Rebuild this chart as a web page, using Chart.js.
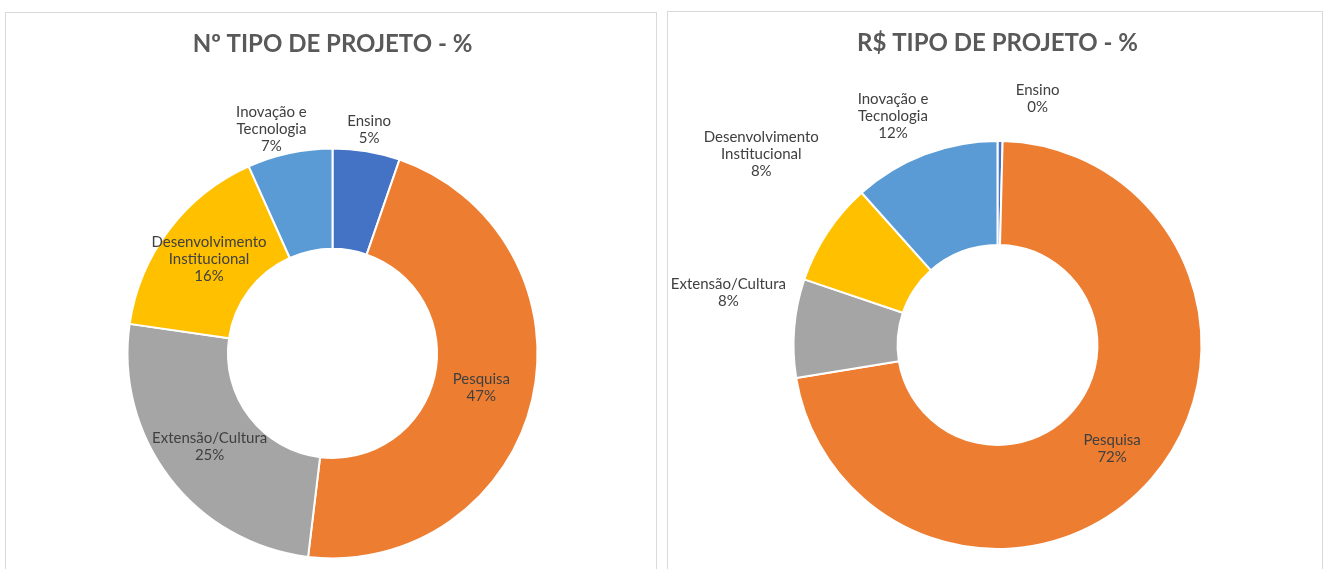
<!DOCTYPE html>
<html>
<head>
<meta charset="utf-8">
<script src="https://cdn.jsdelivr.net/npm/chart.js@4"></script>
<style>
  body { margin: 0; background: #fff; overflow: hidden; width: 1327px; height: 569px; }
  .panel { position: absolute; border: 1px solid #d9d9d9; overflow: hidden; background: #fff; }
  #left { left: 5px; top: 12px; width: 650px; height: 600px; }
  #right { left: 667px; top: 11px; width: 654px; height: 600px; }
  canvas { display: block; }
</style>
</head>
<body>
<div class="panel" id="left"><canvas id="c1" width="650" height="569"></canvas></div>
<div class="panel" id="right"><canvas id="c2" width="654" height="569"></canvas></div>
<script>
// categories, one label line per entry
const categories = [
  ['Ensino'],
  ['Pesquisa'],
  ['Extensão/Cultura'],
  ['Desenvolvimento', 'Institucional'],
  ['Inovação e', 'Tecnologia'],
];
const colors = ['#4472C4', '#ED7D31', '#A5A5A5', '#FFC000', '#5B9BD5'];

// share of number of projects (%)
const countShare = [5.3, 46.6, 25.4, 16.0, 6.7];
// share of money R$ (%)
const valueShare = [0.4, 72.0, 7.8, 8.2, 11.6];

// draws "label / xx%" next to each slice
const sliceLabels = {
  id: 'sliceLabels',
  afterDatasetsDraw(chart, args, opts) {
    const ctx = chart.ctx;
    const data = chart.data.datasets[0].data;
    const total = data.reduce((a, b) => a + b, 0);
    const arcs = chart.getDatasetMeta(0).data;
    ctx.save();
    ctx.font = '15px Lato';
    ctx.fillStyle = '#404040';
    ctx.textAlign = 'center';
    ctx.textBaseline = 'middle';
    arcs.forEach((arc, i) => {
      const p = arc.getProps(['x', 'y', 'startAngle', 'endAngle', 'innerRadius', 'outerRadius'], true);
      const pos = opts.pos[i] || {};
      const mid = (p.startAngle + p.endAngle) / 2;
      const r = pos.r != null ? pos.r : (p.innerRadius + p.outerRadius) / 2;
      const cx = p.x + Math.cos(mid) * r + (pos.dx || 0);
      const cy = p.y + Math.sin(mid) * r + (pos.dy || 0);
      const lines = chart.data.labels[i].concat([Math.round(data[i] / total * 100) + '%']);
      const lh = 17;
      lines.forEach((t, k) => {
        ctx.fillText(t, cx, cy + (k - (lines.length - 1) / 2) * lh);
      });
    });
    ctx.restore();
  }
};

function makeChart(id, title, values, opt) {
  return new Chart(document.getElementById(id), {
    type: 'doughnut',
    data: {
      labels: categories,
      datasets: [{
        data: values,
        backgroundColor: colors,
        borderColor: '#ffffff',
        borderWidth: 2,
        hoverOffset: 0,
      }],
    },
    options: {
      responsive: false,
      animation: false,
      radius: opt.radius,
      cutout: opt.cutout,
      layout: { padding: opt.padding },
      plugins: {
        legend: { display: false },
        tooltip: { enabled: false },
        title: {
          display: true,
          text: title,
          color: '#595959',
          font: { family: 'Lato', size: 24, weight: 'bold' },
          padding: opt.titlePadding,
        },
        sliceLabels: { pos: opt.labelPos },
      },
    },
    plugins: [sliceLabels],
  });
}

makeChart('c1', 'Nº TIPO DE PROJETO - %', countShare, {
  radius: 205,
  cutout: '51%',
  padding: { left: 3, right: 0, top: 0, bottom: 0 },
  titlePadding: { top: 17, bottom: 66 },
  labelPos: [
    { r: 227, dx: -1, dy: 0 },
    { dx: -2, dy: 0 },
    { dx: 0, dy: -1 },
    { dx: 0, dy: -1 },
    { r: 230, dx: -13, dy: 1 },
  ],
});

makeChart('c2', 'R$ TIPO DE PROJETO - %', valueShare, {
  radius: 204,
  cutout: '49%',
  padding: { left: 5, right: 0, top: 0, bottom: 0 },
  titlePadding: { top: 17, bottom: 51 },
  labelPos: [
    { r: 250, dx: 37, dy: 4 },
    { dx: 0, dy: 4 },
    { r: 270, dx: 0, dy: -30 },
    { r: 300, dx: 14, dy: -25 },
    { r: 240, dx: -19, dy: -5 },
  ],
});
</script>
</body>
</html>
